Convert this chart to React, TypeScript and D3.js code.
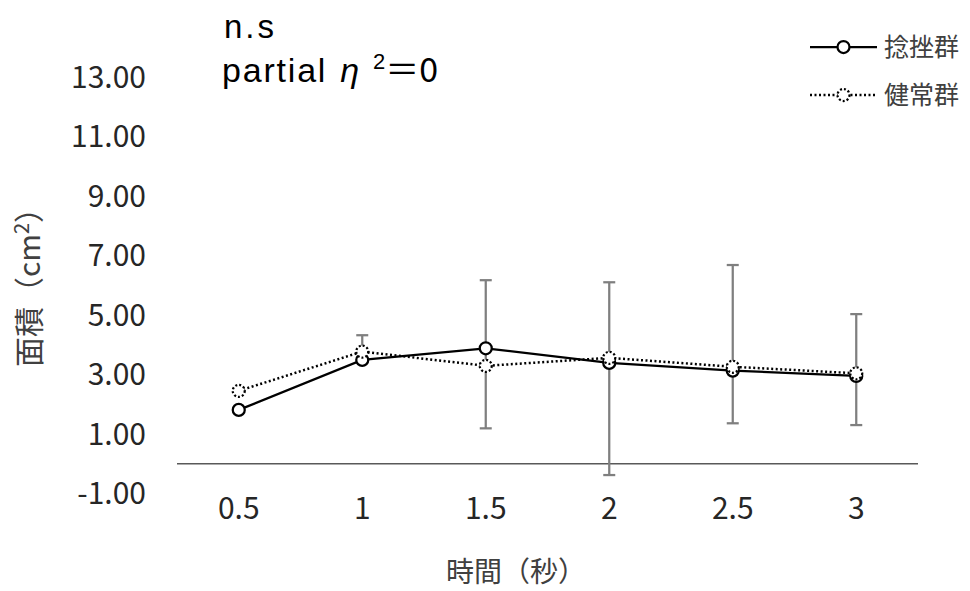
import React, { useEffect, useRef } from "react";
import * as d3 from "d3";

// Time points (seconds)
const categories: string[] = ["0.5", "1", "1.5", "2", "2.5", "3"];
// Mean area (cm²) per group
const sprainValues: number[] = [1.81, 3.49, 3.88, 3.39, 3.13, 2.95];
const healthyValues: number[] = [2.45, 3.77, 3.29, 3.56, 3.26, 3.04];
// Error bar extents (upper / lower) per time point
const errorUpper: (number | null)[] = [null, 4.32, 6.17, 6.1, 6.68, 5.03];
const errorLower: (number | null)[] = [null, 3.55, 1.19, -0.38, 1.36, 1.3];
const yTicks: number[] = [-1, 1, 3, 5, 7, 9, 11, 13];
const seriesNames: string[] = ["捻挫群", "健常群"];

const W = 970;
const H = 591;
const FONT = "'Noto Sans CJK JP', 'Noto Sans', sans-serif";
const LATIN = "'Liberation Sans', Arial, sans-serif";

export default function App() {
  const ref = useRef<SVGSVGElement | null>(null);

  useEffect(() => {
    document.body.style.margin = "0";
    const svg = d3.select(ref.current);
    svg.selectAll("*").remove();

    const x = d3.scaleBand<string>().domain(categories).range([177, 918]);
    const y = d3.scaleLinear().domain([-1, 13]).range([493.5, 77]);
    const cx = (c: string) => (x(c) as number) + x.bandwidth() / 2;

    // y tick labels
    svg
      .append("g")
      .selectAll("text")
      .data(yTicks)
      .join("text")
      .attr("x", 146)
      .attr("y", (d) => y(d))
      .attr("dy", "0.36em")
      .attr("text-anchor", "end")
      .attr("font-family", FONT)
      .attr("font-size", 30)
      .attr("fill", "#262626")
      .text((d) => d.toFixed(2));

    // horizontal axis line at zero
    svg
      .append("line")
      .attr("x1", 177)
      .attr("x2", 918)
      .attr("y1", y(0))
      .attr("y2", y(0))
      .attr("stroke", "#595959")
      .attr("stroke-width", 1.5);

    // x tick labels
    svg
      .append("g")
      .selectAll("text")
      .data(categories)
      .join("text")
      .attr("x", (d) => cx(d))
      .attr("y", 508)
      .attr("dy", "0.36em")
      .attr("text-anchor", "middle")
      .attr("font-family", FONT)
      .attr("font-size", 30)
      .attr("fill", "#262626")
      .text((d) => d);

    // error bars
    const eb = svg.append("g").attr("stroke", "#7f7f7f").attr("stroke-width", 2.25);
    categories.forEach((c, i) => {
      const hi = errorUpper[i];
      const lo = errorLower[i];
      if (hi == null || lo == null) return;
      const px = cx(c);
      eb.append("line").attr("x1", px).attr("x2", px).attr("y1", y(hi)).attr("y2", y(lo));
      eb.append("line").attr("x1", px - 6).attr("x2", px + 6).attr("y1", y(hi)).attr("y2", y(hi));
      eb.append("line").attr("x1", px - 6).attr("x2", px + 6).attr("y1", y(lo)).attr("y2", y(lo));
    });

    const line = d3
      .line<number>()
      .x((_, i) => cx(categories[i]))
      .y((d) => y(d));

    const drawSeries = (vals: number[], dashed: boolean) => {
      svg
        .append("path")
        .datum(vals)
        .attr("d", line)
        .attr("fill", "none")
        .attr("stroke", "#000")
        .attr("stroke-width", dashed ? 2.5 : 2.25)
        .attr("stroke-dasharray", dashed ? "2,2.5" : null);
      svg
        .append("g")
        .selectAll("circle")
        .data(vals)
        .join("circle")
        .attr("cx", (_, i) => cx(categories[i]))
        .attr("cy", (d) => y(d))
        .attr("r", 6)
        .attr("fill", "#fff")
        .attr("stroke", "#000")
        .attr("stroke-width", 2.25)
        .attr("stroke-dasharray", dashed ? "2,2" : null);
    };
    drawSeries(sprainValues, false);
    drawSeries(healthyValues, true);

    // legend
    const legend = svg.append("g");
    seriesNames.forEach((name, i) => {
      const ly = 47 + i * 48;
      const dashed = i === 1;
      legend
        .append("line")
        .attr("x1", 810)
        .attr("x2", 877)
        .attr("y1", ly)
        .attr("y2", ly)
        .attr("stroke", "#000")
        .attr("stroke-width", dashed ? 2.5 : 2.25)
        .attr("stroke-dasharray", dashed ? "2,2.5" : null);
      legend
        .append("circle")
        .attr("cx", 843.5)
        .attr("cy", ly)
        .attr("r", 6)
        .attr("fill", "#fff")
        .attr("stroke", "#000")
        .attr("stroke-width", 2.25)
        .attr("stroke-dasharray", dashed ? "2,2" : null);
      legend
        .append("text")
        .attr("x", 884)
        .attr("y", ly)
        .attr("dy", "0.36em")
        .attr("font-family", FONT)
        .attr("font-size", 25)
        .attr("fill", "#404040")
        .text(name);
    });

    // annotation
    svg
      .append("text")
      .attr("x", 224)
      .attr("y", 38)
      .attr("font-family", LATIN)
      .attr("font-size", 33)
      .attr("letter-spacing", 3)
      .attr("fill", "#000")
      .text("n.s");
    const eta = svg
      .append("text")
      .attr("x", 222)
      .attr("y", 82)
      .attr("font-family", LATIN)
      .attr("font-size", 34)
      .attr("fill", "#000");
    eta.append("tspan").attr("letter-spacing", 1.8).text("partial");
    eta.append("tspan").attr("dx", 13).attr("font-style", "italic").text("η");
    eta.append("tspan").attr("dx", 14).attr("dy", -13).attr("font-size", 22).text("2");
    eta.append("tspan").attr("dy", 13).attr("font-family", FONT).text("＝0");

    // axis titles
    const yt = svg
      .append("text")
      .attr("transform", `translate(40,280) rotate(-90)`)
      .attr("text-anchor", "middle")
      .attr("font-family", FONT)
      .attr("font-size", 30)
      .attr("fill", "#404040");
    yt.append("tspan").text("面積（cm");
    yt.append("tspan").attr("dy", -11).attr("font-size", 20).text("2");
    yt.append("tspan").attr("dy", 11).text("）");

    svg
      .append("text")
      .attr("x", 516)
      .attr("y", 572)
      .attr("dy", "0.36em")
      .attr("text-anchor", "middle")
      .attr("font-family", FONT)
      .attr("font-size", 28)
      .attr("fill", "#404040")
      .text("時間（秒）");
  }, []);

  return (
    <svg
      ref={ref}
      width={W}
      height={H}
      style={{ position: "absolute", left: 0, top: 0, background: "#fff" }}
    />
  );
}
